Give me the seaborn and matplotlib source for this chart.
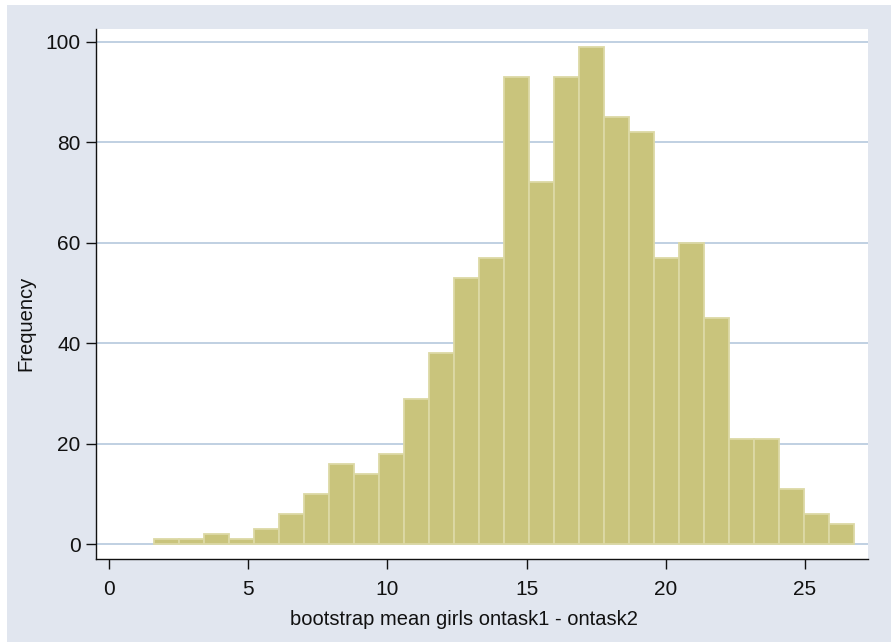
import matplotlib
matplotlib.use('Agg')
import matplotlib.pyplot as plt
from matplotlib.patches import Rectangle
import numpy as np
import pandas as pd
import seaborn as sns

# histogram: bin start, bin width and counts per bin
bin_start = 1.62
bin_width = 0.898
counts = [1, 1, 2, 1, 3, 6, 10, 16, 14, 18, 29, 38, 53, 57, 93,
          72, 93, 99, 85, 82, 57, 60, 45, 21, 21, 11, 6, 4]
x_ticks = [0, 5, 10, 15, 20, 25]
y_ticks = [0, 20, 40, 60, 80, 100]
x_label = "bootstrap mean girls ontask1 - ontask2"
y_label = "Frequency"

edges = bin_start + bin_width * np.arange(len(counts) + 1)
centers = (edges[:-1] + edges[1:]) / 2
df = pd.DataFrame({'diff': centers, 'n': counts})

sns.set_style("ticks")
plt.rcParams['font.family'] = ['Liberation Sans', 'DejaVu Sans']

fig = plt.figure(figsize=(8.91, 6.42), dpi=100, facecolor='white')
# stata-like bluish background, with a thin white strip on the left and top
fig.patches.append(Rectangle((7 / 891, 0), 1, 1 - 5 / 642, transform=fig.transFigure,
                             facecolor='#e1e6ef', edgecolor='none', zorder=-1))
ax = fig.add_axes([96 / 891, 1 - 559 / 642, 772 / 891, 530 / 642])
ax.set_facecolor('white')

# bins must be a list here, an ndarray trips seaborn's "auto" check
sns.histplot(data=df, x='diff', weights='n', bins=edges.tolist(), ax=ax, stat='count',
             color='#c9c47c', alpha=1, edgecolor='#dcd9a5', linewidth=1.3, zorder=3)

ax.set_xlim(-0.478, 27.276)
ax.set_ylim(-2.9, 102.5)
ax.set_xticks(x_ticks)
ax.set_yticks(y_ticks)
ax.set_axisbelow(True)
ax.yaxis.grid(True, color='#c0d0e2', linewidth=1.4)
ax.xaxis.grid(False)

for side in ['top', 'right']:
    ax.spines[side].set_visible(False)
for side in ['left', 'bottom']:
    ax.spines[side].set_linewidth(1.0)
    ax.spines[side].set_color('#111111')

ax.tick_params(axis='both', length=7, width=1.0, color='#111111',
               labelsize=15, labelcolor='#111111')
ax.tick_params(axis='x', pad=8)
ax.tick_params(axis='y', pad=4)

ax.set_xlabel(x_label, fontsize=14.5, color='#111111')
ax.set_ylabel(y_label, fontsize=14.5, color='#111111')
ax.xaxis.label.set_va('center')
ax.yaxis.label.set_va('center')
ax.xaxis.set_label_coords(0.477, -0.115)
ax.yaxis.set_label_coords(-0.0907, 0.445)

plt.savefig("out.png", dpi=100, facecolor=fig.get_facecolor())
